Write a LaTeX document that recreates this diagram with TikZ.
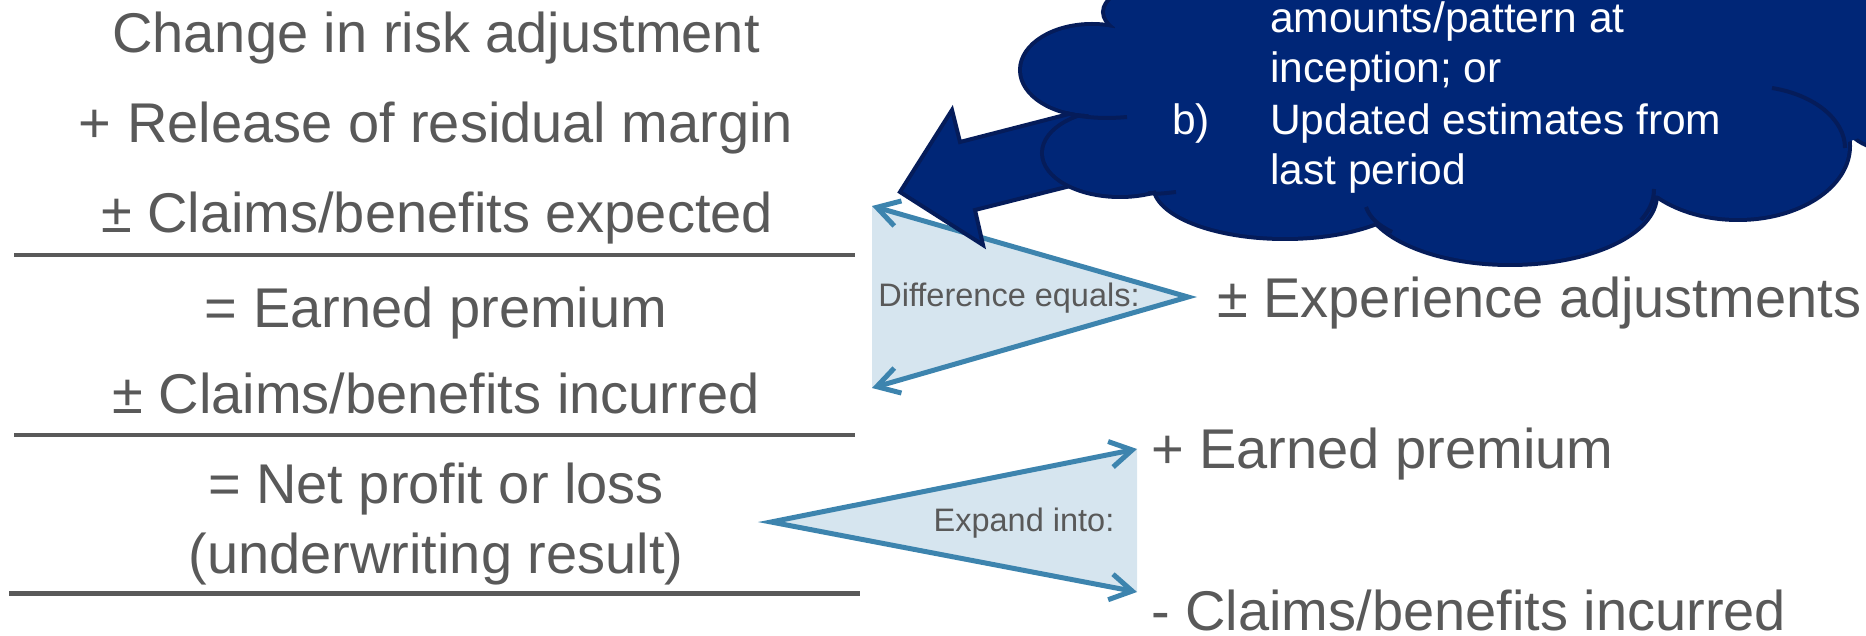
\documentclass[tikz,border=0pt]{standalone}
\usepackage{fontspec}
\setmainfont{Liberation Sans}
\usetikzlibrary{arrows.meta}
\definecolor{basegray}{HTML}{595959}
\definecolor{baseblue}{HTML}{3D84AE}
\definecolor{baselight}{HTML}{D6E5EF}
\definecolor{basenavy}{HTML}{002677}
\definecolor{basedark}{HTML}{051C5A}
\tikzset{
  rowtext/.style={anchor=base,inner sep=0pt,text=basegray,font=\fontsize{56}{67}\selectfont},
  sidetext/.style={anchor=base west,inner sep=0pt,text=basegray,font=\fontsize{56}{67}\selectfont},
  smalltext/.style={inner sep=0pt,text=basegray,font=\fontsize{32.5}{39}\selectfont},
  cloudtext/.style={anchor=base west,inner sep=0pt,text=white,font=\fontsize{42.5}{51}\selectfont},
  sumline/.style={basegray,line width=4pt},
  flowarrow/.style={baseblue,line width=5pt,line join=miter},
  puff/.style={basedark,line width=4pt}
}

\begin{document}
\begin{tikzpicture}[x=1pt,y=-1pt,>={Straight Barb[length=22pt,width=26pt]}]
  \useasboundingbox (0,0) rectangle (1866,636);
  % left column
  \node[rowtext] (risk) at (436,53) {Change in risk adjustment};
  \node[rowtext] (resid) at (436,143) {+ Release of residual margin};
  \node[rowtext] (expct) at (437,233) {± Claims/benefits expected};
  \draw[sumline] (14,255) -- (855,255);
  \node[rowtext] (earn) at (436,327) {= Earned premium};
  \node[rowtext] (incur) at (436,413) {± Claims/benefits incurred};
  \draw[sumline] (14,435) -- (855,435);
  \node[rowtext] (net) at (436,503) {= Net profit or loss};
  \node[rowtext] (uwr) at (436,573) {(underwriting result)};
  \draw[sumline,line width=5pt] (9,593) -- (860,593);
  % right column
  \node[sidetext] (expadj) at (1217,317) {± Experience adjustments};
  \node[sidetext] (plusep) at (1151,468) {+ Earned premium};
  \node[sidetext] (minci) at (1151,630) {- Claims/benefits incurred};
  % difference
  \coordinate (dtop) at (872,206);
  \coordinate (dbot) at (872,388);
  \coordinate (dapex) at (1188,297);
  \fill[baselight] (dtop) -- (dapex) -- (dbot) -- cycle;
  \draw[flowarrow,<->] (dtop) -- (dapex) -- (dbot);
  \node[smalltext] (diff) at (1009,298) {Difference equals:};
  % expand
  \coordinate (eapex) at (771,522);
  \coordinate (etop) at (1137,449);
  \coordinate (ebot) at (1137,592);
  \fill[baselight] (eapex) -- (etop) -- (ebot) -- cycle;
  \draw[flowarrow,<->] (etop) -- (eapex) -- (ebot);
  \node[smalltext] (expand) at (1024,523) {Expand into:};
  % callout arrow
  \filldraw[fill=basenavy,draw=basedark,line width=4pt,line join=miter]
    (900,192) -- (952,110) -- (960,142) -- (1100,106) -- (1110,176) -- (975,210) -- (983,245) -- cycle;
  % cloud
  \foreach \cx/\cy/\rx/\ry in {1240/12/135/40,1092/70/70/44,1120/153/76/42,1285/185/130/52,1510/195/145/68,1738/146/110/72,1890/110/48/38}
    \draw[basedark,line width=8pt] (\cx,\cy) ellipse [x radius=\rx,y radius=\ry];
  \foreach \cx/\cy/\rx/\ry in {1240/12/135/40,1092/70/70/44,1120/153/76/42,1285/185/130/52,1510/195/145/68,1738/146/110/72,1890/110/48/38}
    \fill[basenavy] (\cx,\cy) ellipse [x radius=\rx,y radius=\ry];
  \fill[basenavy] (1130,-10) -- (1880,-10) -- (1880,130) -- (1840,145) -- (1760,205) -- (1650,195)
    -- (1510,250) -- (1390,215) -- (1285,225) -- (1165,185) -- (1110,150) -- (1080,100) -- (1110,40) -- cycle;
  \draw[puff] (1066,113) .. controls (1085,118) and (1105,119) .. (1127,117);
  \draw[puff] (1148,193) .. controls (1158,194) .. (1176,192);
  \draw[puff] (1392,232) .. controls (1378,225) and (1370,218) .. (1366,207);
  \draw[puff] (1641,220) .. controls (1650,210) and (1654,200) .. (1654,189);
  \draw[puff] (1845,148) .. controls (1845,120) and (1815,95) .. (1772,88);
  \node[cloudtext] (amt) at (1270,33) {amounts/pattern at};
  \node[cloudtext] (incp) at (1270,83) {inception; or};
  \node[cloudtext] (lblb) at (1172,135) {b)};
  \node[cloudtext] (upd) at (1270,135) {Updated estimates from};
  \node[cloudtext] (last) at (1270,185) {last period};
\end{tikzpicture}
\end{document}
